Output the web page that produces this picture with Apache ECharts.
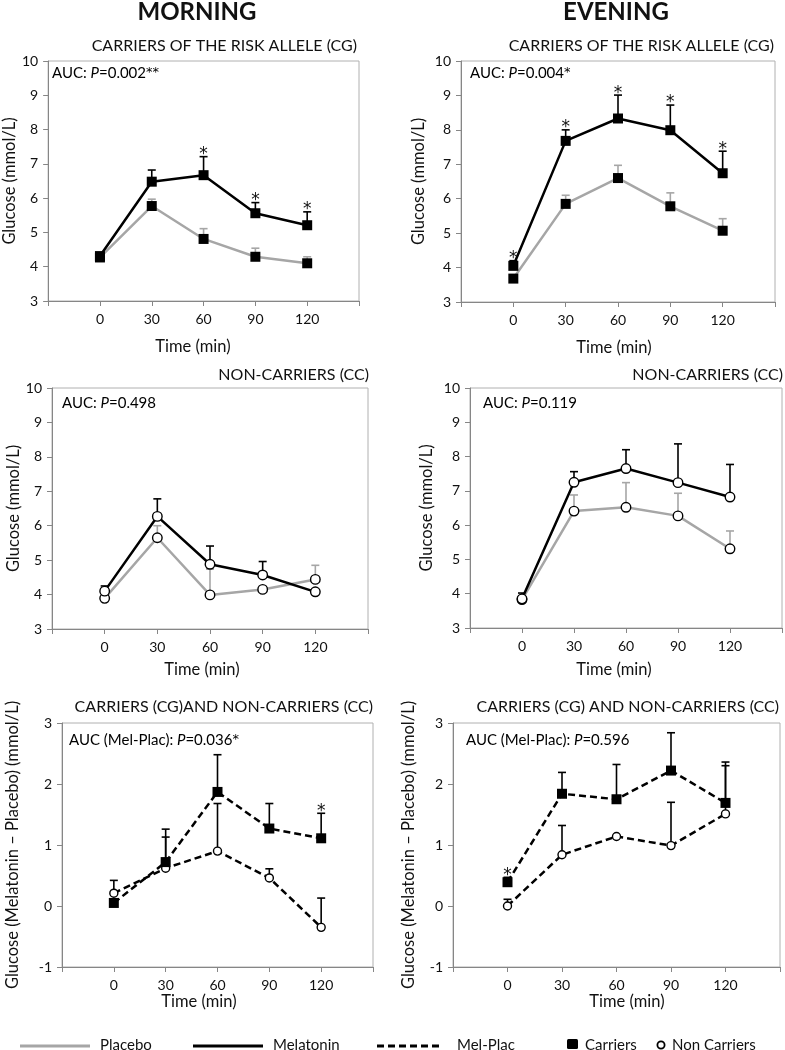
<!DOCTYPE html>
<html>
<head>
<meta charset="utf-8">
<script src="https://cdn.jsdelivr.net/npm/echarts@6/dist/echarts.min.js"></script>
<style>
html,body{margin:0;padding:0;background:#fff;}
#chart{width:785px;height:1050px;}
</style>
</head>
<body>
<div id="chart"></div>
<script>
// ---------- DATA ----------
const times = [0, 30, 60, 90, 120];
const timeTicks = ['0', '30', '60', '90', '120'];

// Morning, carriers (CG)
const mornCarrPlacebo      = [4.27, 5.77, 4.81, 4.29, 4.10];
const mornCarrPlaceboErr   = [4.36, 5.97, 5.11, 4.54, 4.29];
const mornCarrMelatonin    = [4.31, 6.48, 6.67, 5.56, 5.21];
const mornCarrMelatoninErr = [4.40, 6.82, 7.21, 5.87, 5.60];
const mornCarrStars        = [60, 90, 120];

// Evening, carriers (CG)
const eveCarrPlacebo      = [3.68, 5.85, 6.60, 5.78, 5.07];
const eveCarrPlaceboErr   = [null, 6.10, 6.97, 6.17, 5.42];
const eveCarrMelatonin    = [4.05, 7.68, 8.33, 7.99, 6.74];
const eveCarrMelatoninErr = [4.20, 8.00, 9.01, 8.72, 7.38];
const eveCarrStars        = [0, 30, 60, 90, 120];

// Morning, non-carriers (CC)
const mornNonPlacebo      = [3.89, 5.65, 3.99, 4.15, 4.44];
const mornNonPlaceboErr   = [null, 6.00, 4.74, null, 4.85];
const mornNonMelatonin    = [4.10, 6.27, 4.88, 4.57, 4.08];
const mornNonMelatoninErr = [4.25, 6.78, 5.41, 4.96, null];

// Evening, non-carriers (CC)
const eveNonPlacebo      = [3.83, 6.41, 6.52, 6.27, 5.31];
const eveNonPlaceboErr   = [null, 6.88, 7.24, 6.93, 5.83];
const eveNonMelatonin    = [3.85, 7.25, 7.65, 7.24, 6.82];
const eveNonMelatoninErr = [4.02, 7.56, 8.20, 8.37, 7.77];

// Morning, Mel - Plac
const mornDiffCarr    = [0.05, 0.72, 1.87, 1.27, 1.11];
const mornDiffCarrErr = [null, 1.26, 2.48, 1.68, 1.52];
const mornDiffNon     = [0.21, 0.62, 0.90, 0.46, -0.35];
const mornDiffNonErr  = [0.42, 1.13, 1.68, 0.61, 0.13];
const mornDiffStars   = [120];

// Evening, Mel - Plac
const eveDiffCarr    = [0.39, 1.84, 1.75, 2.22, 1.69];
const eveDiffCarrErr = [0.47, 2.19, 2.32, 2.84, 2.36];
const eveDiffNon     = [0.00, 0.84, 1.14, 0.99, 1.51];
const eveDiffNonErr  = [0.11, 1.32, null, 1.70, 2.30];
const eveDiffStars   = [0];

// ---------- STYLE ----------
const FONT = 'Lato, "Open Sans", sans-serif';
const STARFONT = '"DejaVu Sans", sans-serif';
const GRAY = '#a6a6a6';
const AXIS = '#868686';
const BLACK = '#000000';
const TXT = '#111111';

const panels = [
  { grid:{left:44, top:61, width:315, height:240}, yr:[3,10],
    yName:'Glucose (mmol/L)', yGap:28, xName:[193, 347],
    lines:[
      {v:mornCarrPlacebo, e:mornCarrPlaceboErr, c:GRAY, sym:'rect'},
      {v:mornCarrMelatonin, e:mornCarrMelatoninErr, c:BLACK, sym:'rect', stars:mornCarrStars}
    ]},
  { grid:{left:461, top:61, width:314, height:241}, yr:[3,10],
    yName:'Glucose (mmol/L)', yGap:34, xName:[614, 348],
    lines:[
      {v:eveCarrPlacebo, e:eveCarrPlaceboErr, c:GRAY, sym:'rect'},
      {v:eveCarrMelatonin, e:eveCarrMelatoninErr, c:BLACK, sym:'rect', stars:eveCarrStars}
    ]},
  { grid:{left:52, top:388, width:316, height:241}, yr:[3,10],
    yName:'Glucose (mmol/L)', yGap:27, xName:[202, 670],
    lines:[
      {v:mornNonPlacebo, e:mornNonPlaceboErr, c:GRAY, sym:'circle'},
      {v:mornNonMelatonin, e:mornNonMelatoninErr, c:BLACK, sym:'circle'}
    ]},
  { grid:{left:470, top:388, width:314, height:240}, yr:[3,10],
    yName:'Glucose (mmol/L)', yGap:35, xName:[614, 670],
    lines:[
      {v:eveNonPlacebo, e:eveNonPlaceboErr, c:GRAY, sym:'circle'},
      {v:eveNonMelatonin, e:eveNonMelatoninErr, c:BLACK, sym:'circle'}
    ]},
  { grid:{left:62, top:723, width:311, height:244}, yr:[-1,3],
    yName:'Glucose (Melatonin \u2013 Placebo) (mmol/L)', yGap:41, xName:[199, 1002],
    lines:[
      {v:mornDiffNon, e:mornDiffNonErr, c:BLACK, sym:'circle', dashed:true, small:true},
      {v:mornDiffCarr, e:mornDiffCarrErr, c:BLACK, sym:'rect', dashed:true, stars:mornDiffStars}
    ]},
  { grid:{left:453, top:723, width:327, height:244}, yr:[-1,3],
    yName:'Glucose (Melatonin \u2013 Placebo) (mmol/L)', yGap:36, xName:[627, 1002],
    lines:[
      {v:eveDiffNon, e:eveDiffNonErr, c:BLACK, sym:'circle', dashed:true, small:true},
      {v:eveDiffCarr, e:eveDiffCarrErr, c:BLACK, sym:'rect', dashed:true, stars:eveDiffStars}
    ]}
];

const grids = [], xAxes = [], yAxes = [], series = [];

panels.forEach((p, k) => {
  grids.push(Object.assign({show:true, borderColor:'#b0b0b0', borderWidth:1, containLabel:false}, p.grid));
  xAxes.push({
    type:'value', gridIndex:k, min:-30, max:150, interval:30,
    axisLine:{show:true, onZero:false, lineStyle:{color:AXIS, width:1}},
    axisTick:{show:true, length:5, lineStyle:{color:AXIS}},
    splitLine:{show:false},
    axisLabel:{margin:11, fontFamily:FONT, fontSize:14, color:TXT,
      formatter:(val)=>{ const i = times.indexOf(val); return i >= 0 ? timeTicks[i] : ''; }}
  });
  yAxes.push({
    type:'value', gridIndex:k, min:p.yr[0], max:p.yr[1], interval:1,
    name:p.yName, nameLocation:'middle', nameGap:p.yGap, nameRotate:90,
    nameTextStyle:{fontFamily:FONT, fontSize:16.5, color:TXT},
    axisLine:{show:true, onZero:false, lineStyle:{color:AXIS, width:1}},
    axisTick:{show:true, length:5, lineStyle:{color:AXIS}},
    splitLine:{show:false},
    axisLabel:{margin:10, fontFamily:FONT, fontSize:14, color:TXT}
  });

  // error bars first (underneath)
  p.lines.forEach((ln) => {
    const errData = [];
    times.forEach((t, i) => { if (ln.e[i] != null) errData.push([t, ln.v[i], ln.e[i]]); });
    series.push({
      type:'custom', xAxisIndex:k, yAxisIndex:k, z:1, silent:true,
      data:errData,
      renderItem:(params, api) => {
        const a = api.coord([api.value(0), api.value(1)]);
        const b = api.coord([api.value(0), api.value(2)]);
        const st = {stroke: ln.c, lineWidth: 1.6};
        return {type:'group', children:[
          {type:'line', shape:{x1:a[0], y1:a[1], x2:b[0], y2:b[1]}, style:st},
          {type:'line', shape:{x1:b[0]-4, y1:b[1], x2:b[0]+4, y2:b[1]}, style:st}
        ]};
      }
    });
  });

  // lines with markers
  p.lines.forEach((ln) => {
    const isRect = ln.sym === 'rect';
    series.push({
      type:'line', xAxisIndex:k, yAxisIndex:k, z:3,
      data: times.map((t, i) => [t, ln.v[i]]),
      symbol: ln.sym, symbolSize: isRect ? 10 : (ln.small ? 8 : 9.5),
      showAllSymbol:true,
      lineStyle:{color:ln.c, width:2.5, type: ln.dashed ? [7,4] : 'solid'},
      itemStyle: isRect ? {color:BLACK, borderWidth:0}
                        : {color:'#ffffff', borderColor:BLACK, borderWidth:1.4},
      emphasis:{disabled:true}
    });
  });

  // asterisks
  p.lines.forEach((ln) => {
    if (!ln.stars) return;
    const starData = ln.stars.map((t) => {
      const i = times.indexOf(t);
      return [t, ln.e[i] != null ? ln.e[i] : ln.v[i]];
    });
    series.push({
      type:'custom', xAxisIndex:k, yAxisIndex:k, z:4, silent:true,
      data:starData,
      renderItem:(params, api) => {
        const b = api.coord([api.value(0), api.value(1)]);
        return {type:'text', x:b[0], y:b[1] - 2,
          style:{text:'*', font:'17px ' + STARFONT, fill:TXT, textAlign:'center', textVerticalAlign:'middle'}};
      }
    });
  });
});

// ---------- TEXT ----------
function centerText(text, x, y, size) {
  return {type:'text', x:x, y:y, style:{text:text, font:size + 'px ' + FONT, fill:TXT, textAlign:'center', textVerticalAlign:'middle'}};
}
function rightText(text, x, y, size) {
  return {type:'text', x:x, y:y, style:{text:text, font:size + 'px ' + FONT, fill:TXT, textAlign:'right', textVerticalAlign:'middle'}};
}
function aucText(pre, num, stars, x, y) {
  return {type:'text', x:x, y:y, style:{
    text:'{n|' + pre + '}{i|P}{n|=' + num + '}' + (stars ? '{s|' + stars + '}' : ''),
    textAlign:'left', textVerticalAlign:'middle',
    rich:{ n:{fontFamily:FONT, fontSize:15, color:TXT},
           i:{fontFamily:FONT, fontSize:15, fontStyle:'italic', color:TXT},
           s:{fontFamily:STARFONT, fontSize:13, color:TXT} }
  }};
}
function legendLine(x1, x2, y, color, dash) {
  return {type:'line', shape:{x1:x1, y1:y, x2:x2, y2:y}, style:{stroke:color, lineWidth:3, lineDash:dash || null}};
}
function legendText(text, x, y) {
  return {type:'text', x:x, y:y, style:{text:text, font:'15px ' + FONT, fill:TXT, textAlign:'left', textVerticalAlign:'middle'}};
}

const graphic = [
  {type:'text', x:197, y:12, style:{text:'MORNING', font:'bold 24px ' + FONT, fill:TXT, textAlign:'center', textVerticalAlign:'middle'}},
  {type:'text', x:616, y:12, style:{text:'EVENING', font:'bold 24px ' + FONT, fill:TXT, textAlign:'center', textVerticalAlign:'middle'}},
  rightText('CARRIERS OF THE RISK ALLELE (CG)', 357, 46, 16),
  rightText('CARRIERS OF THE RISK ALLELE (CG)', 774, 46, 16),
  rightText('NON-CARRIERS (CC)', 369, 375, 16),
  rightText('NON-CARRIERS (CC)', 783, 375, 16),
  rightText('CARRIERS (CG)AND NON-CARRIERS (CC)', 373, 707, 16),
  rightText('CARRIERS (CG) AND NON-CARRIERS (CC)', 779, 707, 16),
  aucText('AUC: ', '0.002', '**', 52, 73),
  aucText('AUC: ', '0.004', '*', 470, 73),
  aucText('AUC: ', '0.498', '', 62, 403),
  aucText('AUC: ', '0.119', '', 483, 403),
  aucText('AUC (Mel-Plac): ', '0.036', '*', 69, 740),
  aucText('AUC (Mel-Plac): ', '0.596', '', 466, 740),
  legendLine(20, 90, 1046, GRAY),
  legendText('Placebo', 100, 1045),
  legendLine(193, 263, 1046, BLACK),
  legendText('Melatonin', 273, 1045),
  legendLine(377, 443, 1046, BLACK, [7, 4]),
  legendText('Mel-Plac', 457, 1045),
  {type:'rect', shape:{x:567, y:1039, width:11, height:10, r:1.5}, style:{fill:BLACK}},
  legendText('Carriers', 585, 1045),
  {type:'circle', shape:{cx:661, cy:1045, r:3.6}, style:{fill:'#fff', stroke:BLACK, lineWidth:1.8}},
  legendText('Non Carriers', 672, 1045)
];
panels.forEach((p) => { graphic.push(centerText('Time (min)', p.xName[0], p.xName[1], 16.5)); });

const chart = echarts.init(document.getElementById('chart'), null, {renderer:'canvas'});
chart.setOption({
  animation:false,
  backgroundColor:'#ffffff',
  grid:grids, xAxis:xAxes, yAxis:yAxes, series:series, graphic:graphic
});
</script>
</body>
</html>
